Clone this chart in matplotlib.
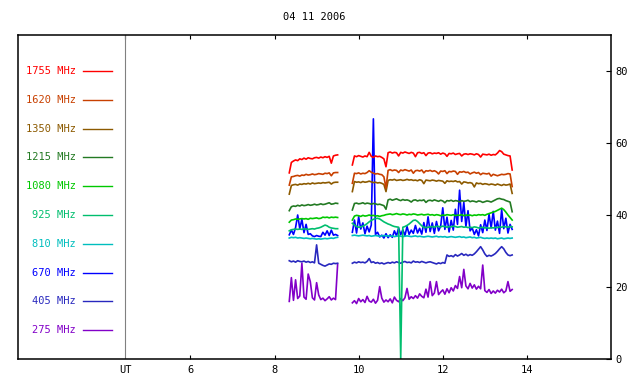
import matplotlib
matplotlib.use("Agg")
import matplotlib.pyplot as plt
import matplotlib.transforms as mtransforms
import numpy as np

title = "04 11 2006"
freqs = ["1755", "1620", "1350", "1215", "1080", "925", "810", "670", "405", "275"]
colors = ["#ff0000", "#c84000", "#8c5a00", "#237a23", "#00c800",
          "#00be6e", "#00bebe", "#0000ff", "#2828be", "#8200c8"]

# two observing windows (UT hours), one sample every 3 min
seg1_start, seg1_end = 8.35, 9.50
seg2_start, seg2_end = 9.85, 13.65
ut_mark = 4.45

# flux values, first window
f1755_a = [51.7, 54.6, 55.0, 55.3, 55.1, 55.6, 55.4, 55.8, 55.5, 55.9, 55.7, 55.6,
           55.9, 56.0, 55.8, 56.1, 55.9, 56.2, 56.0, 56.3, 54.4, 56.4, 56.6, 56.7]
f1620_a = [48.3, 50.6, 50.7, 50.9, 51.0, 50.8, 51.1, 51.0, 51.3, 51.1, 51.2, 51.4,
           51.2, 51.3, 51.5, 51.4, 51.3, 51.6, 51.5, 51.7, 50.9, 51.7, 51.8, 51.8]
f1350_a = [45.8, 48.2, 48.4, 48.5, 48.3, 48.6, 48.5, 48.7, 48.6, 48.8, 48.6, 48.9,
           48.7, 48.8, 48.9, 48.8, 49.0, 48.9, 49.0, 49.1, 48.6, 49.0, 49.1, 49.1]
f1215_a = [41.2, 42.3, 42.5, 42.4, 42.7, 42.5, 42.8, 42.6, 42.7, 42.9, 42.7, 42.8,
           43.0, 42.8, 42.9, 43.1, 42.9, 43.0, 43.2, 43.4, 43.0, 43.1, 43.3, 43.2]
f1080_a = [38.0, 38.6, 38.7, 38.9, 38.8, 38.9, 39.0, 38.9, 39.0, 38.8, 39.1, 39.0,
           39.1, 39.2, 39.0, 39.1, 39.4, 39.3, 39.4, 39.2, 39.4, 39.3, 39.4, 39.3]
f925_a = [35.6, 35.9, 36.0, 36.1, 36.0, 36.1, 36.0, 36.2, 36.1, 36.0, 36.1, 36.2,
          36.1, 36.3, 36.4, 36.6, 36.9, 37.2, 37.0, 36.6, 36.4, 36.3, 36.2, 36.2]
f810_a = [33.6, 33.8, 33.7, 33.8, 33.6, 33.7, 33.6, 33.5, 33.6, 33.5, 33.4, 33.5,
          33.4, 33.3, 33.4, 33.3, 33.4, 33.5, 33.4, 33.5, 33.6, 33.5, 33.7, 33.8]
f670_a = [34.5, 35.8, 34.6, 36.5, 40.0, 36.2, 38.8, 35.1, 37.4, 34.6, 34.8, 34.2,
          34.0, 34.3, 34.1, 34.0, 35.2, 34.4, 35.6, 34.3, 35.8, 34.4, 34.6, 34.3]
f405_a = [27.3, 27.0, 27.2, 26.9, 27.3, 27.1, 27.0, 27.2, 26.9, 27.1, 26.8, 27.0,
          26.7, 31.7, 26.6, 26.3, 26.0, 25.8, 26.1, 26.4, 26.3, 26.6, 26.5, 26.6]
f275_a = [16.0, 22.6, 16.3, 22.0, 16.8, 17.5, 26.6, 17.2, 16.6, 23.6, 21.5, 17.0,
          16.4, 21.2, 17.8, 16.5, 16.9, 16.2, 16.7, 17.3, 16.4, 16.9, 16.5, 26.3]

# flux values, second window
f1755_b = [53.9, 56.4, 56.2, 56.5, 56.3, 56.1, 56.4, 56.2, 57.4, 56.3, 56.0, 56.4, 56.2, 56.3, 56.0, 55.6, 53.4,
           57.3, 57.5, 57.2, 57.4, 57.3, 56.4, 57.4, 57.2, 57.5, 57.3,
           57.1, 57.4, 57.2, 56.2, 57.3, 57.4, 57.1, 57.3, 56.5, 57.2,
           57.3, 57.0, 57.2, 57.1, 57.3, 56.9, 57.2, 57.0, 56.3, 57.1,
           57.0, 57.2, 56.8, 57.0, 57.1, 56.4, 56.9, 57.0, 56.8, 57.0,
           56.9, 56.7, 57.0, 56.8, 56.1, 56.9, 56.8, 56.7, 56.9, 56.6,
           56.8, 56.7, 57.2, 57.9, 57.6, 56.9, 56.7, 56.5, 56.4, 52.5]
f1620_b = [48.8, 51.6, 51.5, 51.7, 51.4, 51.6, 51.5, 51.8, 52.3, 51.9, 51.6, 51.4, 51.5, 51.3, 51.2, 50.6, 47.5,
           52.4, 52.6, 52.3, 52.5, 52.4, 51.8, 52.5, 52.3, 52.6, 52.4,
           52.2, 52.5, 51.6, 52.3, 52.4, 52.2, 52.5, 51.7, 52.3, 52.2,
           52.4, 52.1, 52.3, 52.0, 51.4, 52.2, 52.1, 52.3, 51.5, 52.1,
           52.0, 52.2, 52.1, 51.3, 52.0, 51.9, 52.1, 51.8, 51.9, 51.4,
           51.7, 51.9, 51.6, 51.8, 51.2, 51.6, 51.5, 51.4, 51.6, 50.8,
           51.3, 51.1, 50.9, 51.1, 51.3, 51.2, 51.3, 51.5, 51.4, 47.9]
f1350_b = [46.5, 49.3, 49.1, 49.2, 49.0, 49.3, 49.1, 49.2, 49.4, 49.2, 49.0, 49.1, 48.9, 49.0, 48.8, 48.5, 46.5,
           49.6, 49.8, 49.7, 49.9, 49.6, 49.7, 49.8, 49.6, 49.7, 49.9,
           49.7, 49.8, 49.6, 49.7, 49.5, 49.8, 49.6, 48.7, 49.7, 49.6,
           49.5, 49.7, 49.6, 49.4, 49.6, 49.5, 49.4, 48.8, 49.5, 49.3,
           49.4, 49.3, 49.5, 49.2, 49.3, 48.6, 49.2, 49.1, 48.9, 49.0,
           48.8, 47.8, 48.9, 48.7, 48.8, 48.5, 48.7, 48.6, 48.4, 48.6,
           48.5, 48.3, 48.6, 48.4, 48.2, 48.5, 48.3, 48.4, 48.6, 46.0]
f1215_b = [41.4, 43.2, 43.3, 43.1, 43.2, 43.4, 43.1, 43.3, 43.2, 43.0, 43.2, 43.1, 42.9, 43.0, 42.8, 42.6, 41.6,
           44.2, 44.4, 44.1, 44.3, 44.5, 44.2, 44.0, 44.3, 44.1, 44.2,
           44.0, 43.6, 44.1, 44.2, 43.9, 44.1, 44.0, 44.2, 43.5, 44.0,
           44.1, 43.9, 44.2, 44.0, 43.8, 44.1, 43.9, 43.4, 44.0, 43.9,
           44.1, 43.8, 44.0, 43.9, 43.6, 44.0, 43.8, 43.9, 44.1, 43.7,
           43.9, 43.8, 43.6, 43.9, 43.8, 43.5, 43.7, 43.9, 43.8, 43.6,
           43.9, 44.2, 44.5, 44.6, 44.4, 44.3, 44.0, 43.8, 43.6, 40.9]
f1080_b = [38.6, 39.7, 39.9, 39.8, 39.6, 39.9, 39.7, 39.8, 40.0, 39.8, 39.9, 39.7, 39.8, 39.6, 39.8, 39.9, 40.1,
           40.2, 40.3, 40.1, 40.2, 40.4, 40.2, 40.1, 40.3, 40.2, 40.0,
           40.2, 40.1, 40.3, 40.2, 40.0, 40.1, 40.2, 40.0, 40.1, 40.2,
           40.0, 40.1, 39.9, 40.1, 40.0, 39.8, 40.0, 39.9, 40.1, 40.0,
           39.9, 40.1, 39.8, 40.0, 39.9, 40.1, 39.8, 40.0, 39.9, 40.0,
           39.8, 40.0, 39.9, 40.1, 40.0, 40.1, 39.9, 40.2, 40.4, 40.6,
           40.8, 41.0, 41.3, 41.6, 41.9, 41.5, 40.8, 40.0, 39.3, 38.6]
f925_b = [37.7, 37.2, 36.8, 36.6, 36.7, 36.9, 37.2, 37.6, 38.1, 38.5, 38.8, 39.0, 39.1, 38.9, 38.5, 38.1, 37.8,
          37.5, 37.3, 37.0, 36.8, 36.7, 36.6, 0.0, 36.6, 36.8, 37.1,
          37.5, 38.0, 38.5, 38.6, 38.2, 37.6, 37.0, 36.6, 36.5, 36.6,
          36.7, 36.8, 36.6, 36.9, 36.8, 36.7, 36.9, 36.8, 36.6, 36.8,
          36.7, 36.9, 36.8, 36.6, 36.7, 36.8, 36.6, 36.7, 36.5, 36.6,
          36.5, 36.7, 36.6, 36.4, 36.5, 36.6, 36.4, 36.5, 36.3, 36.5,
          36.4, 36.6, 36.5, 36.7, 36.6, 36.8, 36.7, 36.6, 36.8, 36.7]
f810_b = [34.3, 34.4, 34.3, 34.2, 34.3, 34.4, 34.3, 34.2, 34.3, 34.1, 34.2, 34.3, 34.2, 34.1, 34.2, 34.3, 34.2,
          34.2, 34.1, 34.2, 34.0, 34.1, 34.2, 34.1, 34.0, 34.1, 34.2,
          34.1, 34.0, 34.1, 34.2, 34.0, 34.1, 34.0, 33.9, 34.0, 34.1,
          34.0, 33.9, 34.0, 34.1, 33.9, 34.0, 33.9, 34.0, 33.8, 33.9,
          34.0, 33.9, 33.8, 33.9, 34.0, 33.8, 33.9, 33.7, 33.8, 33.9,
          33.7, 33.8, 33.6, 33.7, 33.8, 33.6, 33.5, 33.6, 33.5, 33.6,
          33.5, 33.6, 33.4, 33.5, 33.6, 33.4, 33.5, 33.6, 33.5, 33.6]
f670_b = [35.2, 38.6, 35.0, 39.5, 36.1, 37.8, 34.8, 36.9, 35.3, 37.2, 66.7, 34.6, 35.2, 33.9, 34.4, 33.6, 34.8,
          33.7, 34.5, 33.8, 35.6, 34.2, 36.4, 34.5, 35.9, 34.3, 36.8,
          34.6, 35.8, 34.9, 37.1, 35.0, 36.3, 34.7, 37.9, 35.2, 39.5,
          35.4, 37.8, 34.9, 38.2, 35.6, 36.9, 42.0, 36.0, 39.4, 35.3,
          38.5, 35.8, 41.6, 37.4, 46.9, 38.2, 43.5, 36.8, 41.2, 35.6,
          36.4, 34.6, 35.9, 34.2, 37.3, 35.1, 38.6, 35.7, 40.2, 36.4,
          41.0, 35.8, 38.3, 34.9, 41.5, 36.2, 39.1, 35.0, 37.4, 36.0]
f405_b = [26.6, 26.9, 26.7, 27.0, 26.8, 26.9, 26.7, 27.1, 27.9, 26.8, 27.0, 26.6, 26.8, 26.5, 26.7, 26.4, 26.6,
          26.8, 26.6, 26.9, 26.7, 27.0, 26.8, 26.6, 26.9, 27.1, 26.8,
          26.9, 26.7, 27.2, 26.9, 27.0, 26.8, 27.1, 26.9, 26.7, 26.9,
          27.0, 26.8, 26.6, 26.4, 26.7, 26.5, 26.8, 26.6, 28.9, 28.5,
          28.7, 28.4, 29.0, 28.6, 28.9, 29.3, 28.8, 29.1, 28.7, 29.0,
          28.8, 29.2, 29.8, 30.5, 31.2, 30.3, 29.2, 28.5, 28.8, 28.6,
          28.9, 29.3, 29.9, 30.6, 31.2, 30.6, 29.6, 28.9, 28.7, 28.9]
f275_b = [15.6, 16.2, 15.4, 16.8, 15.9, 16.5, 15.7, 17.4, 16.1, 15.8, 16.6, 15.5, 16.3, 20.1, 16.9, 15.8, 16.4,
          15.9, 16.7, 15.6, 17.2, 16.3, 15.9, 16.8, 16.2, 17.0, 19.6,
          16.6, 17.3, 16.8, 17.6, 16.9, 18.1, 17.4, 17.0, 19.4, 17.2,
          21.5, 17.6, 18.3, 21.5, 17.9, 18.6, 19.2, 18.0, 19.5, 18.4,
          19.8, 18.9, 20.4, 19.6, 22.9, 19.8, 24.9, 20.3, 19.5, 21.0,
          19.7, 20.6, 19.4, 20.2, 19.5, 26.1, 19.0, 18.5, 19.3, 18.2,
          18.9, 18.3, 19.1, 18.6, 19.4, 18.4, 18.9, 21.5, 18.8, 19.3]

first = [f1755_a, f1620_a, f1350_a, f1215_a, f1080_a, f925_a, f810_a, f670_a, f405_a, f275_a]
second = [f1755_b, f1620_b, f1350_b, f1215_b, f1080_b, f925_b, f810_b, f670_b, f405_b, f275_b]

plt.rcParams['font.family'] = 'DejaVu Sans Mono'
plt.rcParams['font.size'] = 7.5

fig = plt.figure(figsize=(6.4, 3.84), dpi=100)
ax = fig.add_axes([18 / 640, 25 / 384, 593 / 640, 324 / 384])

# lowest frequency first so the upper curves sit on top
for i in reversed(range(len(freqs))):
    a, b = first[i], second[i]
    ax.plot(np.linspace(seg1_start, seg1_end, len(a)), a, color=colors[i], lw=1.2)
    ax.plot(np.linspace(seg2_start, seg2_end, len(b)), b, color=colors[i], lw=1.2)

# legend column on the left of the UT divider
trans = mtransforms.blended_transform_factory(ax.transAxes, ax.transData)
for i, (f, c) in enumerate(zip(freqs, colors)):
    y = 80 - 8 * i
    ax.text(0.098, y, f"{f} MHz", color=c, ha='right', va='center', transform=trans)
    ax.plot([0.110, 0.159], [y, y], color=c, lw=1.0, transform=trans)

ax.axvline(ut_mark, color='gray', lw=0.8)

ax.set_xlim(1.9, 16.0)
ax.set_ylim(0, 90)
ax.set_xticks([ut_mark, 6, 8, 10, 12, 14], ["UT", "6", "8", "10", "12", "14"])
ut_tick = ax.xaxis.get_major_ticks()[0]
ut_tick.tick1line.set_visible(False)
ut_tick.tick2line.set_visible(False)
ax.set_yticks([0, 20, 40, 60, 80])
ax.tick_params(axis='x', direction='in', length=3, width=0.8, top=True, pad=4)
ax.tick_params(axis='y', direction='in', length=3.5, width=0.8, left=False, right=True,
               labelleft=False, labelright=True, pad=3)
for s in ax.spines.values():
    s.set_linewidth(1.1)

fig.text(314 / 640, 1 - 17 / 384, title, ha='center', va='center')

fig.savefig("out.png", dpi=100, facecolor='white')
